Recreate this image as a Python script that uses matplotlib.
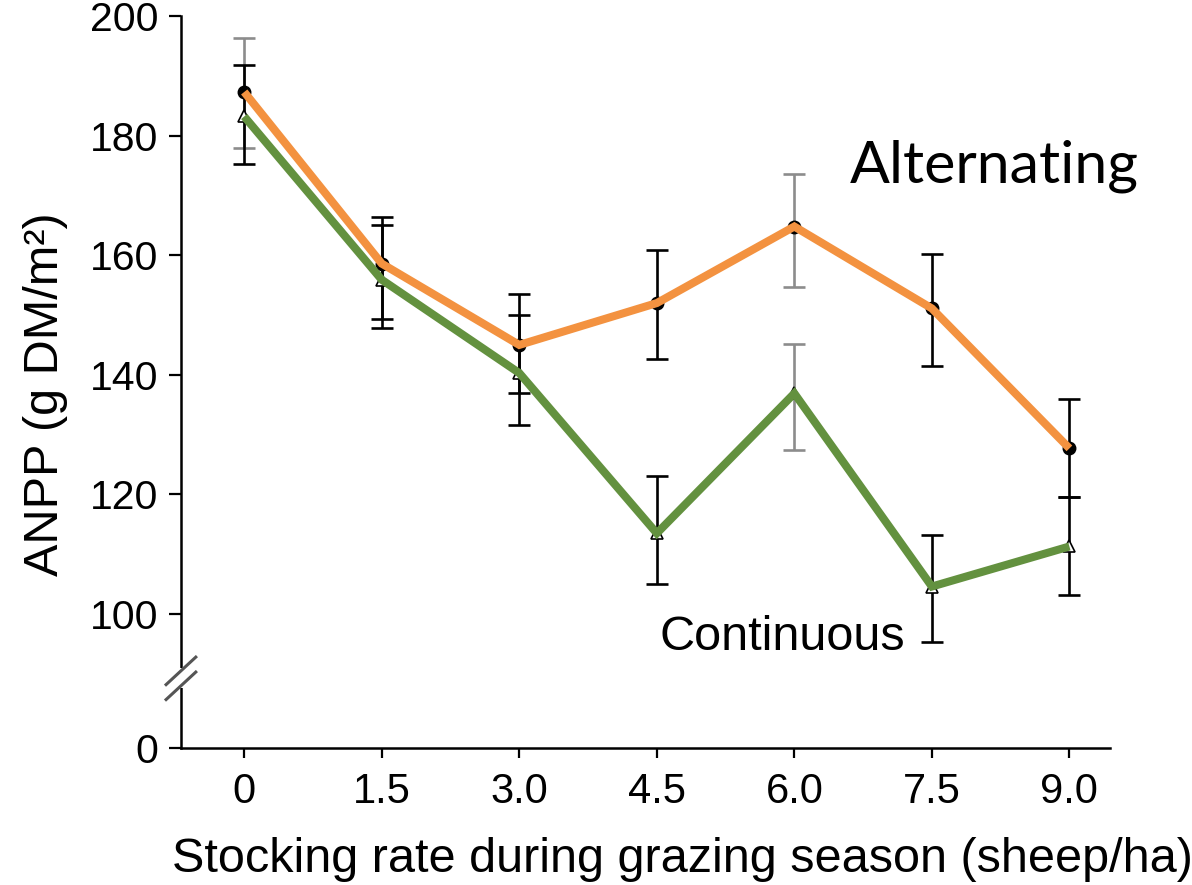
import matplotlib
matplotlib.use('Agg')
import matplotlib.pyplot as plt

# ANPP under two grazing regimes
rate = [0, 1.5, 3.0, 4.5, 6.0, 7.5, 9.0]
rate_labels = ['0', '1.5', '3.0', '4.5', '6.0', '7.5', '9.0']

alt_mean = [187.3, 158.6, 145.0, 152.0, 164.8, 151.1, 127.7]
alt_hi = [196.3, 166.4, 153.5, 160.8, 173.6, 160.2, 135.9]
alt_lo = [177.9, 149.4, 137.0, 142.6, 154.7, 141.5, 119.6]

cont_mean = [183.2, 155.9, 140.3, 113.5, 136.9, 104.6, 111.3]
cont_hi = [191.8, 165.0, 150.0, 123.1, 145.2, 113.2, 119.6]
cont_lo = [175.3, 147.8, 131.6, 105.1, 127.4, 95.4, 103.2]

y_ticks = [100, 120, 140, 160, 180, 200]
y_zero = 77.6  # where "0" sits below the axis break

plt.rcParams['font.family'] = ['Liberation Sans', 'DejaVu Sans']

fig = plt.figure(figsize=(11.92, 8.85), dpi=100)
ax = fig.add_axes([0.1518, 0.1548, 0.7792, 0.8271])

orange = '#f39240'
green = '#63913f'
grey = '#8c8c8c'

alt_ecol = [grey, 'black', 'black', 'black', grey, 'black', 'black']
cont_ecol = ['black', 'black', 'black', 'black', grey, 'black', 'black']

for i, x in enumerate(rate):
    ax.errorbar(x, alt_mean[i],
                yerr=[[alt_mean[i] - alt_lo[i]], [alt_hi[i] - alt_mean[i]]],
                fmt='none', ecolor=alt_ecol[i], elinewidth=1.9,
                capsize=8, capthick=1.9, zorder=2)
    ax.errorbar(x, cont_mean[i],
                yerr=[[cont_mean[i] - cont_lo[i]], [cont_hi[i] - cont_mean[i]]],
                fmt='none', ecolor=cont_ecol[i], elinewidth=1.9,
                capsize=8, capthick=1.9, zorder=2)

# thin black lines with markers under the coloured traces
ax.plot(rate, alt_mean, color='black', lw=1.2, marker='o', ms=9,
        mfc='black', mec='black', zorder=3)
ax.plot(rate, cont_mean, color='black', lw=1.2, marker='^', ms=9,
        mfc='white', mec='black', mew=1.2, zorder=3)

ax.plot(rate, cont_mean, color=green, lw=5.8, solid_joinstyle='miter',
        solid_capstyle='butt', zorder=4)
ax.plot(rate, alt_mean, color=orange, lw=5.8, solid_joinstyle='miter',
        solid_capstyle='butt', zorder=5)

ax.text(6.61, 172.1, 'Alternating', family=['Lato', 'DejaVu Sans'],
        fontsize=42.5, ha='left', va='baseline')
ax.text(4.53, 94.0, 'Continuous', fontsize=35, ha='left', va='baseline')

ax.set_xlim(-0.69, 9.44)
ax.set_ylim(y_zero, 200)
ax.set_xticks(rate)
ax.set_xticklabels(rate_labels)
ax.set_yticks([y_zero] + y_ticks)
ax.set_yticklabels(['0'] + [str(v) for v in y_ticks])

for side in ['top', 'right']:
    ax.spines[side].set_visible(False)
for side in ['left', 'bottom']:
    ax.spines[side].set_linewidth(1.8)

ax.tick_params(axis='y', length=9, width=1.6, labelsize=29.5, pad=7)
ax.tick_params(axis='x', length=7, width=1.6, labelsize=30, pad=10)

ax.set_xlabel('Stocking rate during grazing season (sheep/ha)', fontsize=35,
              labelpad=18)
ax.xaxis.label.set_x(0.54)
ax.set_ylabel('ANPP (g DM/m²)', fontsize=35, labelpad=16)
ax.yaxis.label.set_y(0.484)

# axis break on the y spine
tr = ax.get_yaxis_transform()
ax.plot([0, 0], [87.6, 90.9], transform=tr, color='white', lw=4,
        clip_on=False, zorder=6, solid_capstyle='butt')
for yc in [90.5, 88.0]:
    ax.plot([-0.016, 0.016], [yc - 2.3, yc + 2.3], transform=tr,
            color='#555555', lw=2.2, clip_on=False, zorder=7)

fig.savefig('out.png', dpi=100)
